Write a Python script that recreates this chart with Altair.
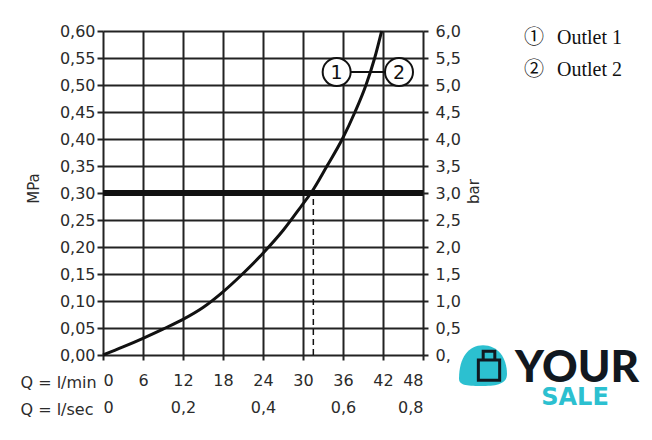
import altair as alt
import pandas as pd

# Curve: flow rate (l/min) vs pressure (MPa)
q_lmin = [0, 3, 6, 9, 12, 15, 18, 21, 24, 27, 30, 31.2, 33.6, 35.9, 37.8, 39.45, 40.75, 41.8]
p_mpa = [0, 0.015, 0.031, 0.048, 0.066, 0.088, 0.117, 0.151, 0.1885, 0.2305, 0.28, 0.30, 0.35, 0.40, 0.45, 0.50, 0.55, 0.60]

x_ticks = [0, 6, 12, 18, 24, 30, 36, 42, 48]
x_sec_ticks = [0, 12, 24, 36, 48]
y_ticks = [0, 0.05, 0.10, 0.15, 0.20, 0.25, 0.30, 0.35, 0.40, 0.45, 0.50, 0.55, 0.60]

ref_pressure = [0.30]
ref_flow = [31.55]

marker_x = [35.05, 44.4]
marker_y = [0.524, 0.524]
marker_lbl = ["1", "2"]

legend_sym = ["\u2460", "\u2461"]
legend_txt = ["Outlet 1", "Outlet 2"]
legend_y = [0.587, 0.528]
legend_sym_x = [64.65, 64.65]
legend_txt_x = [68.1, 68.1]

TXT = "#2b2b2b"
FONT = "DejaVu Sans"

xs = alt.Scale(domain=[0, 48], nice=False, zero=True)
ys = alt.Scale(domain=[0, 0.6], nice=False, zero=True)

curve_df = pd.DataFrame({"q": q_lmin, "p": p_mpa})

curve = alt.Chart(curve_df).mark_line(color="#111", strokeWidth=3, interpolate="monotone").encode(
    x=alt.X("q:Q", scale=xs, axis=alt.Axis(
        orient="bottom", values=x_ticks, grid=True, gridColor="#222", gridWidth=2, gridOpacity=1,
        domain=False, ticks=True, tickSize=5, tickWidth=2, tickColor="#222",
        labelFont=FONT, labelFontSize=16, labelColor=TXT, labelPadding=12,
        labelExpr="format(datum.value, 'd')",
        title="Q = l/min", titleFont=FONT, titleFontSize=16, titleFontWeight="normal",
        titleColor=TXT, titleAngle=0, titleAlign="left", titleBaseline="middle",
        titleX=-83, titleY=27)),
    y=alt.Y("p:Q", scale=ys, axis=alt.Axis(
        orient="left", values=y_ticks, grid=True, gridColor="#222", gridWidth=2, gridOpacity=1,
        domain=False, tickSize=6, tickWidth=2, tickColor="#222",
        labelFont=FONT, labelFontSize=16, labelColor=TXT, labelPadding=2,
        labelExpr="replace(format(datum.value, '.2f'), '.', ',')",
        title="MPa", titleFont=FONT, titleFontSize=15, titleFontWeight="normal",
        titleColor=TXT, titleAngle=270, titleAlign="center", titleBaseline="middle",
        titleX=-70, titleY=157)),
)

ghost = alt.Chart(curve_df).mark_line(opacity=0).encode(
    x=alt.X("q:Q", scale=xs, axis=alt.Axis(
        orient="bottom", values=x_sec_ticks, grid=False, domain=False, ticks=False, offset=26,
        labelFont=FONT, labelFontSize=16, labelColor=TXT, labelPadding=18,
        labelExpr="datum.value == 0 ? '0' : replace(format(datum.value / 60, '.1f'), '.', ',')",
        title="Q = l/sec", titleFont=FONT, titleFontSize=16, titleFontWeight="normal",
        titleColor=TXT, titleAngle=0, titleAlign="left", titleBaseline="middle",
        titleX=-83, titleY=28)),
    y=alt.Y("p:Q", scale=ys, axis=alt.Axis(
        orient="right", values=y_ticks, grid=False, domain=False,
        tickSize=5, tickWidth=2, tickColor="#222",
        labelFont=FONT, labelFontSize=16, labelColor=TXT, labelPadding=7,
        labelExpr="datum.value == 0 ? '0,' : replace(format(datum.value * 10, '.1f'), '.', ',')",
        title="bar", titleFont=FONT, titleFontSize=15, titleFontWeight="normal",
        titleColor=TXT, titleAngle=270, titleAlign="center", titleBaseline="middle",
        titleX=50, titleY=160)),
)

noax_x = lambda f: alt.X(f, scale=xs, axis=None)
noax_y = lambda f: alt.Y(f, scale=ys, axis=None)

hline = alt.Chart(pd.DataFrame({"p": ref_pressure})).mark_rule(color="#111", strokeWidth=6).encode(
    y=noax_y("p:Q"))

vdash = alt.Chart(pd.DataFrame({"q": ref_flow, "p0": [0], "p1": ref_pressure})).mark_rule(
    color="#111", strokeWidth=1.5, strokeDash=[6, 4]).encode(
    x=noax_x("q:Q"), y=noax_y("p0:Q"), y2="p1:Q")

mk_df = pd.DataFrame({"x": marker_x, "y": marker_y, "t": marker_lbl})
connector = alt.Chart(pd.DataFrame({"x0": [marker_x[0]], "x1": [marker_x[1]], "y": [marker_y[0]]})).mark_rule(
    color="#111", strokeWidth=2).encode(x=noax_x("x0:Q"), x2="x1:Q", y=noax_y("y:Q"))
circles = alt.Chart(mk_df).mark_point(shape="circle", size=784, filled=True, fill="white",
                                      stroke="#111", strokeWidth=2, opacity=1).encode(
    x=noax_x("x:Q"), y=noax_y("y:Q"))
circ_txt = alt.Chart(mk_df).mark_text(font=FONT, fontSize=19, color="#111", baseline="middle",
                                      align="center", dy=1).encode(
    x=noax_x("x:Q"), y=noax_y("y:Q"), text="t:N")

leg_df = pd.DataFrame({"sx": legend_sym_x, "tx": legend_txt_x, "y": legend_y,
                       "s": legend_sym, "t": legend_txt})
leg_sym = alt.Chart(leg_df).mark_text(font="Noto Sans CJK JP", fontSize=20, color="#111",
                                      align="center", baseline="middle").encode(
    x=noax_x("sx:Q"), y=noax_y("y:Q"), text="s:N")
leg_txt = alt.Chart(leg_df).mark_text(font="Liberation Serif", fontSize=20, color="#111",
                                      align="left", baseline="middle").encode(
    x=noax_x("tx:Q"), y=noax_y("y:Q"), text="t:N")

# Watermark logo
logo_blob = alt.Chart(pd.DataFrame({"x": [57.0], "y": [-0.022]})).mark_point(
    shape="M-1,0.5C-1,-0.4 -0.6,-0.9 0,-0.9C0.6,-0.9 1,-0.4 1,0.3C1,0.7 0.6,0.8 0,0.8C-0.6,0.8 -1,0.8 -1,0.5Z",
    size=2300, filled=True, color="#2cc0d0", opacity=1).encode(
    x=noax_x("x:Q"), y=noax_y("y:Q"))
logo_bag = alt.Chart(pd.DataFrame({"x": [57.9], "y": [-0.02]})).mark_point(
    shape="M-0.55,-0.3L0.55,-0.3L0.55,0.75L-0.55,0.75ZM-0.3,-0.3L-0.3,-0.75L0.3,-0.75L0.3,-0.3",
    size=1500, filled=False, stroke="#111820", strokeWidth=3, opacity=1).encode(
    x=noax_x("x:Q"), y=noax_y("y:Q"))
logo_your = alt.Chart(pd.DataFrame({"x": [71.1], "y": [-0.05], "t": ["YOUR"]})).mark_text(
    font="Lato", fontWeight=900, fontSize=44, color="#111820", align="center",
    baseline="alphabetic").encode(x=noax_x("x:Q"), y=noax_y("y:Q"), text="t:N")
logo_sale = alt.Chart(pd.DataFrame({"x": [70.8], "y": [-0.0926], "t": ["SALE"]})).mark_text(
    font="DejaVu Sans", fontWeight="bold", fontSize=24, color="#2cc0d0", align="center",
    baseline="alphabetic").encode(x=noax_x("x:Q"), y=noax_y("y:Q"), text="t:N")

chart = alt.layer(
    curve, ghost, hline, vdash, connector, circles, circ_txt, leg_sym, leg_txt,
    logo_blob, logo_bag, logo_your, logo_sale
).resolve_axis(x="independent", y="independent").properties(
    width=320, height=324,
    autosize=alt.AutoSizeParams(type="none"),
    padding={"left": 95, "top": 23, "right": 221, "bottom": 77},
).configure_view(stroke="#111", strokeWidth=3).configure(background="white")

chart.save("out.html", embed_options={"renderer": "svg", "actions": False})
